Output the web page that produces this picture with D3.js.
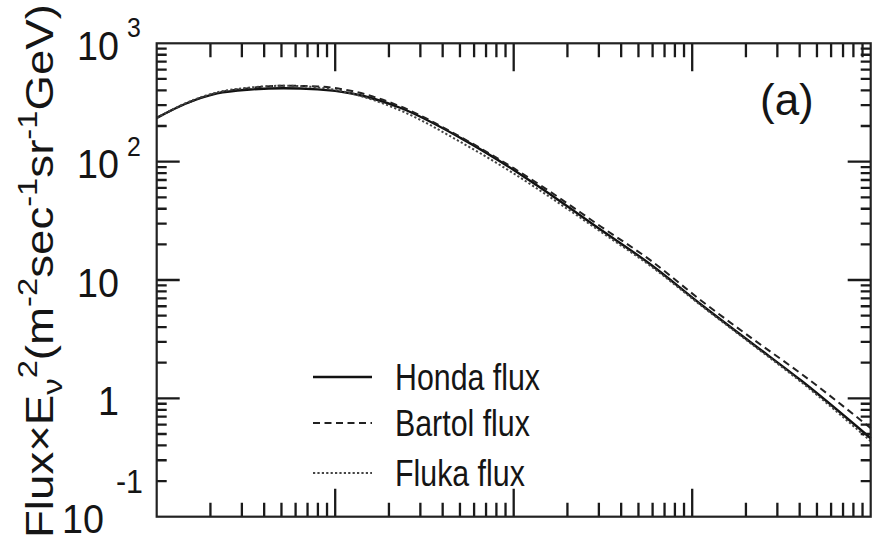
<!DOCTYPE html>
<html>
<head>
<meta charset="utf-8">
<script src="https://cdn.jsdelivr.net/npm/d3@7"></script>
<style>
	body { margin: 0; background: #fff; }
	svg { display: block; }
</style>
</head>
<body>
<div class="chart__flux"><svg></svg></div>
<script>
(function() {

//DATA

	// neutrino energy, GeV
	var energy = [0.1, 0.144, 0.218, 0.334, 0.513, 0.796, 1.22, 2.33, 5.06, 10, 14.2, 30.9, 59, 113, 215, 411, 1000];

	// flux x E^2
	var hondaFlux  = [234, 307, 377, 407, 417, 408, 378, 284, 158, 85, 59.8, 26.4, 13.4, 6.15, 2.94, 1.40, 0.46];
	var bartolFlux = [234, 307, 381, 419, 438, 432, 397, 292, 161, 88, 62.8, 28.2, 14.5, 6.65, 3.23, 1.60, 0.56];
	var flukaFlux  = [234, 310, 385, 423, 438, 424, 378, 270, 146, 79.4, 56.4, 25.4, 13.0, 6.03, 2.88, 1.36, 0.435];

	var seriesNames = ["Honda flux", "Bartol flux", "Fluka flux"];

	var yTickValues = [1000, 100, 10, 1, 0.1];
	var yTickBase = ["10", "10", "10", "1", "10"];
	var yTickExp = ["3", "2", "", "", "-1"];

//VARS

	var width = 876;
	var height = 541;
	var plot = { left: 156.7, top: 43.3, right: 870.7, bottom: 516.7 };
	var scales = {};
	var font = '"Liberation Sans", Arial, sans-serif';
	var ink = '#151515';
	var svg = d3.select('.chart__flux').select('svg');

	// dash style per series
	var dashes = [null, "7,4.5", "2.2,2.2"];
	var strokes = [2.4, 2, 2];
	var colors = ["#111", "#222", "#444"];

	function setupScales() {
		scales.x = d3.scaleLog()
			.domain([0.1, 1000])
			.range([plot.left, plot.right]);
		scales.y = d3.scaleLog()
			.domain([0.1, 1000])
			.range([plot.bottom, plot.top]);
	}

	function minorTicks() {
		var out = [];
		[0.1, 1, 10, 100].forEach(function(dec) {
			for (var k = 2; k < 10; k++) out.push(dec * k);
		});
		return out;
	}

	function addText(sel) {
		return sel.append('text')
			.attr('font-family', font)
			.attr('fill', ink);
	}

	// ticks on all four sides, pointing into the box
	function drawAxes() {
		var major = [1, 10, 100];
		var ticks = major.map(function(v) { return { v: v, major: true }; })
			.concat(minorTicks().map(function(v) { return { v: v, major: false }; }));
		var p = d3.path();

		ticks.forEach(function(d) {
			var xl = d.major ? 28 : 14;
			var yl = d.major ? 23 : 10;
			var tx = scales.x(d.v);
			var ty = scales.y(d.v);
			p.moveTo(tx, plot.bottom); p.lineTo(tx, plot.bottom - xl);
			p.moveTo(tx, plot.top); p.lineTo(tx, plot.top + xl);
			p.moveTo(plot.left, ty); p.lineTo(plot.left + yl, ty);
			p.moveTo(plot.right, ty); p.lineTo(plot.right - yl, ty);
		});

		svg.append('path')
			.attr('class', 'ticks')
			.attr('d', p.toString())
			.attr('fill', 'none')
			.attr('stroke', '#1a1a1a')
			.attr('stroke-width', 2.3);

		svg.append('rect')
			.attr('x', plot.left)
			.attr('y', plot.top)
			.attr('width', plot.right - plot.left)
			.attr('height', plot.bottom - plot.top)
			.attr('fill', 'none')
			.attr('stroke', '#222')
			.attr('stroke-width', 2.2);
	}

	function drawTickLabels() {
		var g = svg.append('g');
		yTickValues.forEach(function(v, i) {
			var ty = scales.y(v);
			var neg = yTickExp[i].charAt(0) == '-';
			var baseX = neg ? 104 : 119;
			addText(g)
				.attr('transform', 'translate(' + baseX + ',' + (ty + 16.5) + ') scale(0.92,1)')
				.attr('text-anchor', 'end')
				.attr('font-size', 41)
				.text(yTickBase[i]);
			if (yTickExp[i]) {
				// the bottom exponent sits up and to the right in the original
				addText(g)
					.attr('transform', 'translate(' + (neg ? 116 : 127) + ',' + (neg ? ty - 24 : ty - 6) + ') scale(0.92,1)')
					.attr('font-size', neg ? 33 : 27)
					.text(yTickExp[i]);
			}
		});
	}

	function drawTitle() {
		var t = addText(svg)
			.attr('transform', 'translate(53,538) rotate(-90) scale(1.17,1)')
			.attr('font-size', 39);
		var parts = [
			["Flux\u00d7E", 0], ["\u03bd", 1], ["2", -1], ["(m", 0], ["-2", -1],
			["sec", 0], ["-1", -1], ["sr", 0], ["-1", -1], ["GeV)", 0]
		];
		var prev = 0;
		parts.forEach(function(p) {
			var shift = p[1] == 1 ? 9 : (p[1] == -1 ? -16 : 0);
			var ts = t.append('tspan').text(p[0]).attr('dy', shift - prev);
			if (p[1] != 0) ts.attr('font-size', 28);
			prev = shift;
		});
	}

	function drawCurves() {
		var all = [hondaFlux, bartolFlux, flukaFlux];
		var line = d3.line()
			.x(function(d) { return scales.x(d[0]); })
			.y(function(d) { return scales.y(d[1]); })
			.curve(d3.curveMonotoneX);

		svg.append('g').selectAll('path')
			.data(all)
			.enter()
			.append('path')
			.attr('d', function(vals) { return line(energy.map(function(e, j) { return [e, vals[j]]; })); })
			.attr('fill', 'none')
			.attr('stroke', function(d, i) { return colors[i]; })
			.attr('stroke-width', function(d, i) { return strokes[i]; })
			.attr('stroke-dasharray', function(d, i) { return dashes[i]; });
	}

	function drawLegend() {
		var rows = [377, 423, 473];
		var g = svg.append('g');
		seriesNames.forEach(function(name, i) {
			g.append('line')
				.attr('x1', 313).attr('x2', 372)
				.attr('y1', rows[i]).attr('y2', rows[i])
				.attr('stroke', colors[i])
				.attr('stroke-width', i == 0 ? 2.4 : 2.2)
				.attr('stroke-dasharray', dashes[i]);
			addText(g)
				.attr('transform', 'translate(395,' + (rows[i] + 13) + ') scale(0.82,1)')
				.attr('font-size', 37)
				.text(name);
		});

		addText(svg)
			.attr('x', 760)
			.attr('y', 115)
			.attr('font-size', 44)
			.text('(a)');
	}

	function init() {
		svg.attr('width', width).attr('height', height);
		setupScales();
		drawCurves();
		drawAxes();
		drawTickLabels();
		drawTitle();
		drawLegend();
	}

	init()
})()
</script>
</body>
</html>
